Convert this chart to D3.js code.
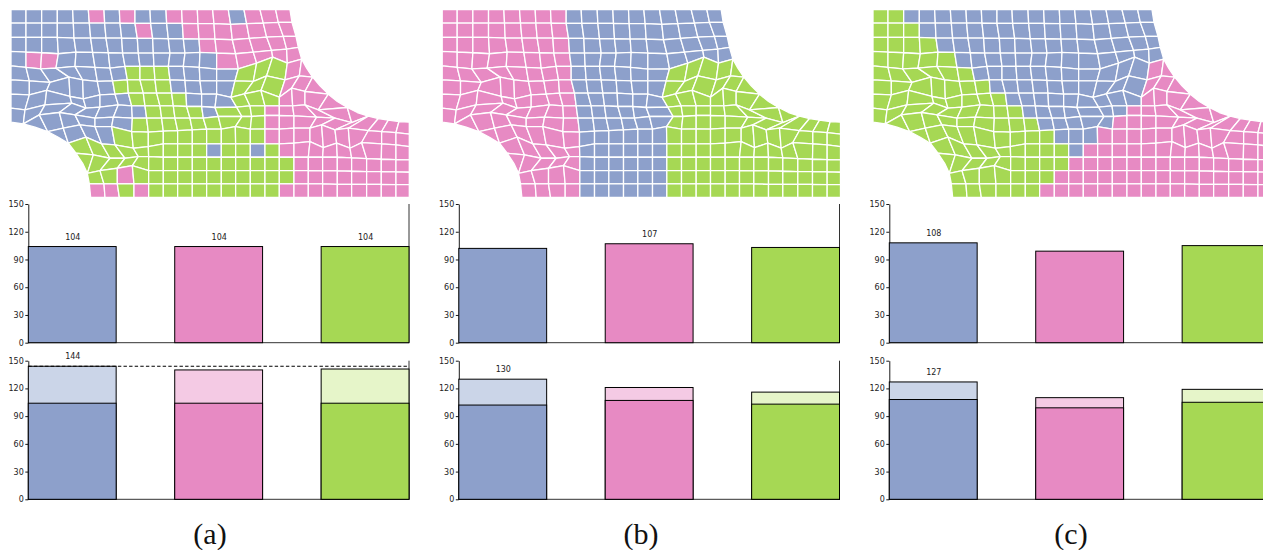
<!DOCTYPE html>
<html><head><meta charset="utf-8">
<script src="https://cdn.jsdelivr.net/npm/d3@7/dist/d3.min.js"></script>
<style>html,body{margin:0;padding:0;background:#fff;overflow:hidden}svg{display:block}</style>
</head><body><svg id="c" width="1263" height="550"></svg>
<script>
const categories = ["blue","pink","green"];
const panelNames = ["(a)","(b)","(c)"];
const tickValues = [0,30,60,90,120,150];
const baseA = [104,104,104], totalA = [144,140,141];
const baseB = [102,107,103], totalB = [130,121,116];
const baseC = [108,99,105],  totalC = [127,110,119];
const upperLabelled = [[0,1,2],[1],[0]];
const dashedAt = [144,null,null];

/* mesh vertices per row line; first vertex of each line sits in column lineStart[i] */
const lineStart = [0,0,0,0,0,0,0,0,0,1,2,3,3,4,4];
const lineX = [
[33,78,125,172,218,265,312,358,405,450,498,545,592,638,685,732,780,827,870],
[33,78,125,172,220,268,314,360,405,452,500,547,594,642,692,740,790,835,876],
[33,78,125,172,222,272,318,365,412,458,505,550,597,645,697,748,800,850,888],
[33,78,125,175,228,278,325,368,415,460,510,555,600,650,707,760,815,860,895],
[33,78,122,168,225,285,330,375,420,462,505,550,598,650,715,770,818,862,905,920],
[33,88,150,207,248,292,338,382,420,465,510,555,600,650,705,760,800,855,898,938,960],
[33,88,140,210,250,300,345,385,430,470,515,558,605,650,693,733,783,838,875,915,985,1012],
[33,75,135,215,258,300,355,395,435,480,520,560,605,645,710,750,795,838,878,915,955,1042,1072],
[33,70,118,178,225,285,340,397,440,485,525,570,610,655,726,755,795,838,882,950,1005,1055,1105,1135,1165,1197,1228],
[105,143,190,240,285,335,395,445,490,533,577,620,664,706,751,795,838,882,930,965,1005,1045,1105,1145,1188,1228],
[175,205,258,305,345,400,445,490,533,577,620,664,707,751,795,838,882,930,970,1010,1050,1085,1145,1188,1228],
[228,280,330,375,415,446,490,533,577,620,664,707,751,795,838,882,925,968,1012,1055,1100,1144,1188,1228],
[248,262,300,352,397,446,490,533,577,620,664,707,751,795,838,882,925,968,1012,1055,1100,1144,1188,1228],
[268,312,352,402,446,490,533,577,620,664,707,751,795,838,882,925,968,1012,1055,1100,1144,1188,1228],
[272,315,358,402,446,490,533,577,620,664,707,751,795,838,882,925,968,1012,1055,1100,1144,1188,1228]
];
const lineY = [
[30,30,30,30,30,30,30,30,30,30,30,30,30,30,30,30,30,30,30],
[70,70,70,70,70,70,70,70,71,71,71,71,72,72,74,72,70,68,68],
[113,113,113,113,115,115,115,115,116,116,117,117,118,118,120,116,112,110,110],
[155,157,159,162,157,158,159,160,160,160,160,160,158,160,162,157,152,148,143],
[198,203,207,205,200,203,205,200,200,200,200,200,203,208,207,190,172,190,178,205],
[240,243,248,232,240,245,243,240,240,240,240,242,243,243,243,245,228,240,228,232,258],
[283,285,272,290,297,285,283,280,280,280,280,280,283,283,293,282,272,292,265,275,283,305],
[325,330,315,310,325,322,315,318,318,318,318,320,320,323,322,318,318,318,318,315,330,323,338],
[367,372,345,338,345,355,352,355,355,355,355,355,355,350,350,350,347,347,348,352,355,368,349,356,361,365,367],
[382,395,385,375,380,380,395,397,394,392,390,388,388,380,388,387,388,385,385,375,390,385,392,395,398,403],
[412,430,412,432,435,445,440,432,432,432,432,432,432,432,432,432,430,425,443,430,445,428,432,435,440],
[460,465,475,475,470,470,472,472,472,472,472,472,472,472,472,472,472,472,472,474,476,478,479,480],
[490,520,512,505,497,512,512,512,512,512,512,512,512,512,512,512,512,513,513,514,515,515,516,517],
[552,552,552,552,552,552,552,552,552,552,552,552,552,552,552,552,552,553,553,553,553,554,554],
[592,592,592,592,592,592,592,592,592,592,592,592,592,592,592,592,592,592,592,592,592,592,592]
];
/* partition of every mesh cell, one string per row band */
const cellsA = [
"BBBBBPBPBBPPPPBPPP","BBBBBBBBPBBPPPPPPP","BBBBBBBBBBBBPPPPPP","BPPBBBBBBBBBBPPPPP",
"BBBBBBBGGGBBBBGGGPP","BBBBBBGGGGBBBBGGGPPP","BBBBBBBGGGGBBBGGGPPPP","BBBBBBBBGGGGBGGGPPPPPP",
"BBBBBBGGGGGGGGGPPPPPPPPPP","BBBBGGGGGGGGGGPPPPPPPPPP","GGGGGGGGGBGGBGPPPPPPPPP",
"GGGGGGGGGGGGGGGPPPPPPPP","GGPGGGGGGGGGGGPPPPPPPP","PPGPGGGGGGGGGPPPPPPPPP"];
const cellsB = [
"PPPPPPPPBBBBBBBBBB","PPPPPPPPBBBBBBBBBB","PPPPPPPPBBBBBBBBBB","PPPPPPPPBBBBBBBBBB",
"PPPPPPPPBBBBBBGGGGG","PPPPPPPPBBBBBBGGGGGG","PPPPPPPPBBBBBBGGGGGGG","PPPPPPPPBBBBBBGGGGGGGG",
"PPPPPPPBBBBBBGGGGGGGGGGGG","PPPPPPBBBBBBGGGGGGGGGGGG","PPPPPBBBBBBGGGGGGGGGGGG",
"PPPPPBBBBBBGGGGGGGGGGGG","PPPPBBBBBBGGGGGGGGGGGG","PPPPBBBBBBGGGGGGGGGGGG"];
const cellsC = [
"GGBBBBBBBBBBBBBBBB","GGGBBBBBBBBBBBBBBB","GGGGBBBBBBBBBBBBBB","GGGGGBBBBBBBBBBBBB",
"GGGGGGBBBBBBBBBBBPP","GGGGGGGBBBBBBBBBBPPP","GGGGGGGGBBBBBBBBBPPPP","GGGGGGGGGBBBBBBBPPPPPP",
"GGGGGGGGGBBBBBPPPPPPPPPPP","GGGGGGGGGBBBPPPPPPPPPPPP","GGGGGGGGGBPPPPPPPPPPPPP",
"GGGGGGGGGPPPPPPPPPPPPPP","GGGGGGGPPPPPPPPPPPPPPP","GGGGGGPPPPPPPPPPPPPPPP"];

const bases = [baseA,baseB,baseC], totals = [totalA,totalB,totalC], cellSets = [cellsA,cellsB,cellsC];
const dark = {B:"#8da0cb",P:"#e78ac3",G:"#a6d854"};
const darkFill = d3.scaleOrdinal(categories,["#8da0cb","#e78ac3","#a6d854"]);
const lightFill = d3.scaleOrdinal(categories,["#cbd5e8","#f4cae4","#e6f5c9"]);

const svg = d3.select("#c");
const meshLeft = [11,442.2,873], axisLeft = [28.3,458.8,889.3], labelX = [210,641,1071];
const plotW = 380.7, meshW = 398.3;
const AX = "'DejaVu Sans',sans-serif";

function vertex(i,c,mx,my){
  const k = c - lineStart[i];
  if (k < 0 || k >= lineX[i].length) return null;
  return [mx(lineX[i][k]), my(lineY[i][k])];
}

cellSets.forEach((cells,p)=>{
  const mx = d3.scaleLinear().domain([33,1228]).range([meshLeft[p],meshLeft[p]+meshW]);
  const my = d3.scaleLinear().domain([30,592]).range([9.7,197.3]);
  const polys = [];
  cells.forEach((row,r)=>{
    const start = Math.max(lineStart[r],lineStart[r+1]);
    row.split("").forEach((lab,j)=>{
      const c = start+j;
      const pts = [vertex(r,c,mx,my),vertex(r,c+1,mx,my),vertex(r+1,c+1,mx,my),vertex(r+1,c,mx,my)];
      if (pts.every(Boolean)) polys.push({pts,lab});
    });
  });
  const line = d3.line().curve(d3.curveLinearClosed);
  svg.append("g").selectAll("path").data(polys).join("path")
    .attr("d",d=>line(d.pts)).attr("fill",d=>dark[d.lab])
    .attr("stroke","#fff").attr("stroke-width",1.3).attr("stroke-linejoin","round");

  const x = d3.scaleBand().domain(categories).range([axisLeft[p],axisLeft[p]+plotW]).paddingInner(0.4).paddingOuter(0);
  const charts = [{top:204,bottom:342.7,stack:false},{top:360.7,bottom:499.3,stack:true}];
  charts.forEach(ch=>{
    const y = d3.scaleLinear().domain([0,150]).range([ch.bottom,ch.top]);
    const g = svg.append("g");
    const ax = g.append("g").attr("transform",`translate(${axisLeft[p]},0)`)
      .call(d3.axisLeft(y).tickValues(tickValues).tickSize(3).tickSizeOuter(0).tickPadding(1.5));
    ax.selectAll("text").attr("font-family",AX).attr("font-size",8).attr("fill","#222");
    ax.selectAll("line,path").attr("stroke","#000").attr("stroke-width",0.9);
    g.append("line").attr("x1",axisLeft[p]).attr("x2",axisLeft[p]+plotW)
      .attr("y1",y(0)).attr("y2",y(0)).attr("stroke","#333").attr("stroke-width",1);
    g.append("line").attr("x1",axisLeft[p]+plotW).attr("x2",axisLeft[p]+plotW)
      .attr("y1",y(150)).attr("y2",y(0)).attr("stroke","#333").attr("stroke-width",1);
    if (ch.stack) {
      g.selectAll("rect.l").data(categories).join("rect").attr("class","l")
        .attr("x",d=>x(d)).attr("width",x.bandwidth())
        .attr("y",(d,i)=>y(totals[p][i])).attr("height",(d,i)=>y(0)-y(totals[p][i]))
        .attr("fill",d=>lightFill(d)).attr("stroke","#000").attr("stroke-width",1);
    }
    g.selectAll("rect.b").data(categories).join("rect").attr("class","b")
      .attr("x",d=>x(d)).attr("width",x.bandwidth())
      .attr("y",(d,i)=>y(bases[p][i])).attr("height",(d,i)=>y(0)-y(bases[p][i]))
      .attr("fill",d=>darkFill(d)).attr("stroke","#000").attr("stroke-width",1);
    const lab = ch.stack ? [0] : upperLabelled[p];
    const vals = ch.stack ? totals[p] : bases[p];
    g.selectAll("text.v").data(lab).join("text").attr("class","v")
      .attr("x",i=>x(categories[i])+x.bandwidth()/2+0.6)
      .attr("y",i=>y(vals[i])-7).attr("text-anchor","middle")
      .attr("font-family",AX).attr("font-size",8).attr("fill","#222").text(i=>vals[i]);
    if (ch.stack && dashedAt[p]!==null) {
      g.append("line").attr("x1",axisLeft[p]).attr("x2",axisLeft[p]+plotW)
        .attr("y1",y(dashedAt[p])).attr("y2",y(dashedAt[p]))
        .attr("stroke","#000").attr("stroke-width",1.2).attr("stroke-dasharray","3.4,2.2");
    }
  });
  svg.append("text").attr("x",labelX[p]).attr("y",544).attr("text-anchor","middle")
    .attr("font-family","'Liberation Serif',serif").attr("font-size",30).attr("fill","#111")
    .text(panelNames[p]);
});
</script></body></html>
